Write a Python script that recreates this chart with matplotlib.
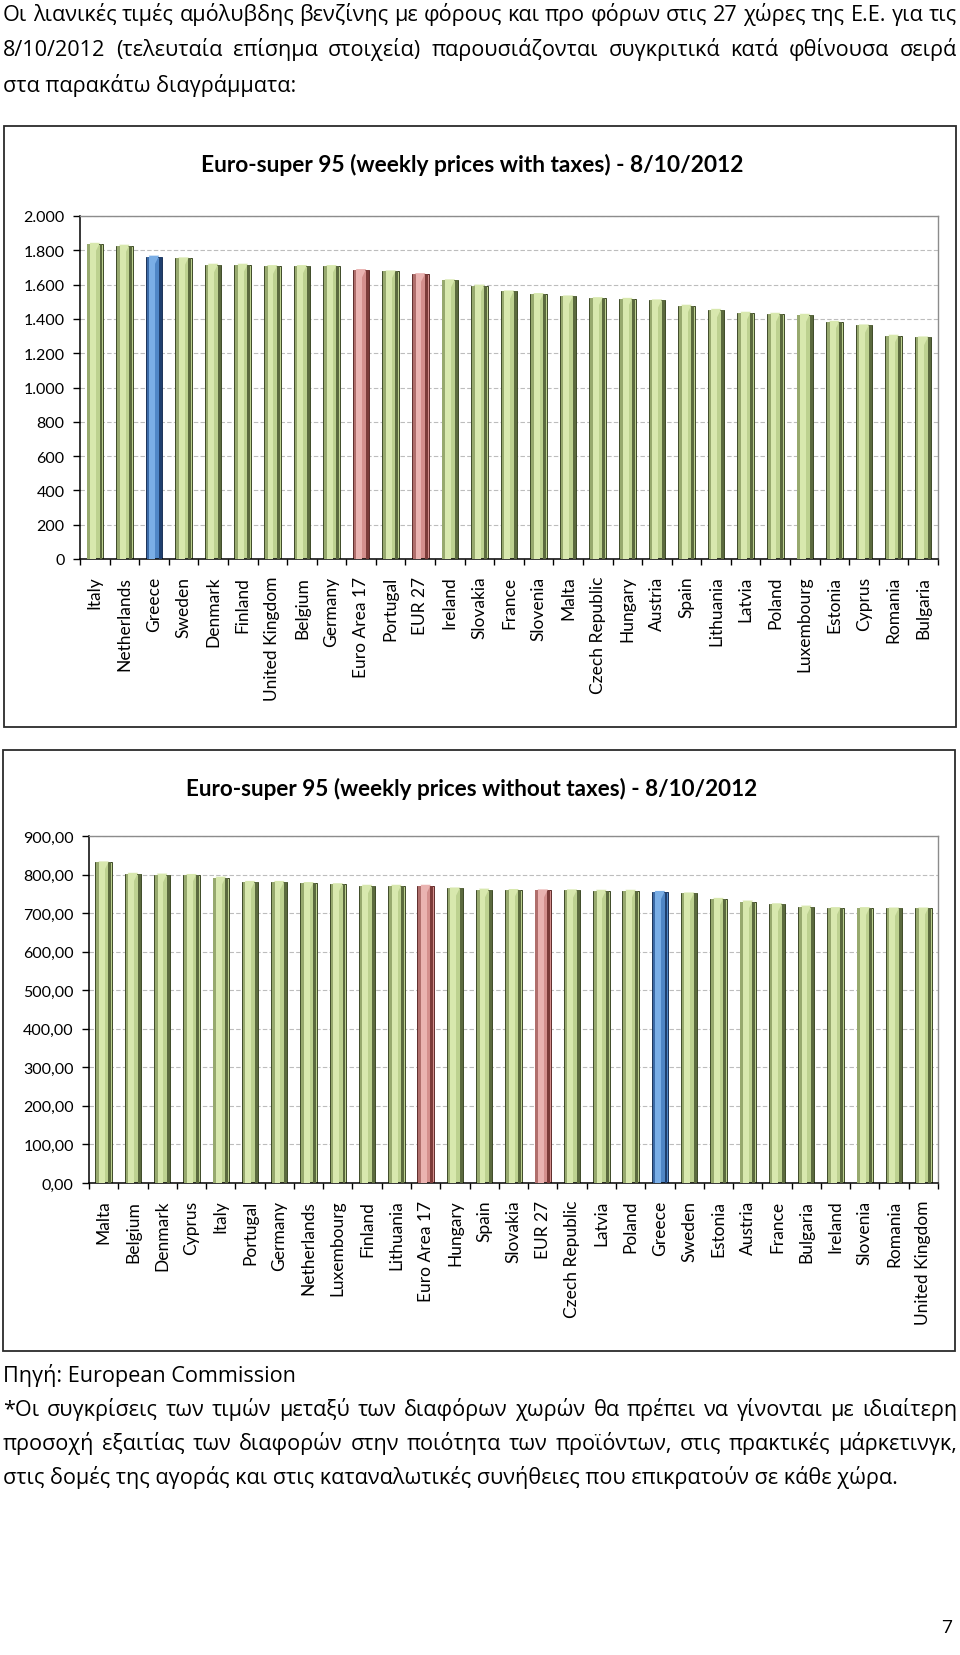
import matplotlib
matplotlib.use('Agg')
from matplotlib import pyplot as plt
from matplotlib.patches import Rectangle
from matplotlib.ticker import FuncFormatter, FixedLocator
import matplotlib.transforms as mtransforms
import numpy as np

W, H = 960, 1656

# Euro-super 95 with taxes, 8/10/2012
countries_tax = ['Italy', 'Netherlands', 'Greece', 'Sweden', 'Denmark', 'Finland',
                 'United Kingdom', 'Belgium', 'Germany', 'Euro Area 17', 'Portugal',
                 'EUR 27', 'Ireland', 'Slovakia', 'France', 'Slovenia', 'Malta',
                 'Czech Republic', 'Hungary', 'Austria', 'Spain', 'Lithuania', 'Latvia',
                 'Poland', 'Luxembourg', 'Estonia', 'Cyprus', 'Romania', 'Bulgaria']
prices_tax = [1838, 1827, 1763, 1753, 1716, 1716, 1708, 1708, 1708, 1685, 1677,
              1661, 1625, 1594, 1560, 1545, 1531, 1521, 1517, 1508, 1477, 1453, 1436,
              1430, 1424, 1383, 1362, 1302, 1292]

# Euro-super 95 without taxes, 8/10/2012
countries_notax = ['Malta', 'Belgium', 'Denmark', 'Cyprus', 'Italy', 'Portugal', 'Germany',
                   'Netherlands', 'Luxembourg', 'Finland', 'Lithuania', 'Euro Area 17',
                   'Hungary', 'Spain', 'Slovakia', 'EUR 27', 'Czech Republic', 'Latvia',
                   'Poland', 'Greece', 'Sweden', 'Estonia', 'Austria', 'France', 'Bulgaria',
                   'Ireland', 'Slovenia', 'Romania', 'United Kingdom']
prices_notax = [831.6, 802, 800, 799, 792, 781, 781, 778, 775, 771, 771, 771, 764, 761,
                760, 759, 759, 758, 758, 755, 751, 737, 730, 723, 717, 713, 713, 712, 712]

intro_lines = [
    'Οι λιανικές τιμές αμόλυβδης βενζίνης με φόρους και προ φόρων στις 27 χώρες της Ε.Ε. για τις',
    '8/10/2012 (τελευταία επίσημα στοιχεία) παρουσιάζονται συγκριτικά κατά φθίνουσα σειρά',
    'στα παρακάτω διαγράμματα:',
]
source_line = 'Πηγή: European Commission'
note_lines = [
    '*Οι συγκρίσεις των τιμών μεταξύ των διαφόρων χωρών θα πρέπει να γίνονται με ιδιαίτερη',
    'προσοχή εξαιτίας των διαφορών στην ποιότητα των προϊόντων, στις πρακτικές μάρκετινγκ,',
    'στις δομές της αγοράς και στις καταναλωτικές συνήθειες που επικρατούν σε κάθε χώρα.',
]

GREEK = ['Open Sans', 'Noto Sans', 'DejaVu Sans']
LATIN = ['Lato', 'Open Sans', 'DejaVu Sans']

fig = plt.figure(figsize=(W / 100, H / 100), dpi=100)
renderer = fig.canvas.get_renderer()


def fx(x):
    return x / W


def fy(y):
    return 1 - y / H


def text_width(s, size, **kw):
    t = fig.text(0, 0, s, fontsize=size, **kw)
    w = t.get_window_extent(renderer).width
    t.remove()
    return w


def fit_size(s, target, **kw):
    return 10 * target / text_width(s, 10, **kw)


def put_line(s, x0, x1, y, size, justify=True, **kw):
    if not justify:
        fig.text(fx(x0), fy(y), s, fontsize=size, ha='left', va='baseline', **kw)
        return
    words = s.split(' ')
    widths = [text_width(w, size, **kw) for w in words]
    gap = (x1 - x0 - sum(widths)) / (len(words) - 1)
    x = x0
    for w, ww in zip(words, widths):
        fig.text(fx(x), fy(y), w, fontsize=size, ha='left', va='baseline', **kw)
        x += ww + gap


# page text
body_size = min(fit_size(intro_lines[0], 954, family=GREEK),
                fit_size(note_lines[0], 954, family=GREEK),
                fit_size(note_lines[1], 954, family=GREEK))
put_line(intro_lines[0], 3, 957, 21, body_size, family=GREEK)
put_line(intro_lines[1], 3, 957, 56, body_size, family=GREEK)
put_line(intro_lines[2], 3, 957, 92, body_size, justify=False, family=GREEK)
put_line(source_line, 3, 957, 1382, body_size, justify=False, family=GREEK)
put_line(note_lines[0], 3, 957, 1416, body_size, family=GREEK)
put_line(note_lines[1], 3, 957, 1450, body_size, family=GREEK)
put_line(note_lines[2], 3, 957, 1484, body_size, justify=False, family=GREEK)
fig.text(fx(952), fy(1633), '7', fontsize=14, ha='right', va='baseline', family=GREEK)

GREEN = dict(face='#bdd190', light='#d8e8ae', dark='#5b6a3e', mid='#97a96e', edge='#3e4a28')
BLUE = dict(face='#4f86c6', light='#7aaee6', dark='#1f3f6e', mid='#3b6aa6', edge='#1c3358')
PINK = dict(face='#d48f8d', light='#eab3b1', dark='#7c3b39', mid='#b06e6c', edge='#5e2c2b')


def style_of(name):
    if name == 'Greece':
        return BLUE
    if name in ('Euro Area 17', 'EUR 27'):
        return PINK
    return GREEN


def draw_chart(box, plot, title, title_w, labels, values, ymax, ystep, fmt):
    bx0, by0, bx1, by1 = box
    fig.patches.append(Rectangle((fx(bx0), fy(by1)), (bx1 - bx0) / W, (by1 - by0) / H,
                                 transform=fig.transFigure, fill=False,
                                 edgecolor='#2b2b2b', lw=1.3))
    tsize = fit_size(title, title_w, family=LATIN, weight='bold')
    fig.text(fx(472), fy(by0 + 38), title, fontsize=tsize, weight='bold',
             family=LATIN, ha='center', va='center')

    px0, py0, px1, py1 = plot
    ax = fig.add_axes([fx(px0), fy(py1), (px1 - px0) / W, (py1 - py0) / H])
    n = len(labels)
    x = np.arange(n)
    vals = np.array(values)
    st = [style_of(c) for c in labels]
    ax.bar(x, vals, width=0.56, color=[s['face'] for s in st],
           edgecolor=[s['edge'] for s in st], lw=0.7, zorder=2)
    ax.bar(x - 0.2, vals, width=0.1, color=[s['mid'] for s in st], lw=0, zorder=3)
    ax.bar(x - 0.06, vals, width=0.2, color=[s['light'] for s in st], lw=0, zorder=3)
    ax.bar(x + 0.21, vals, width=0.1, color=[s['dark'] for s in st], lw=0, zorder=3)
    tri = mtransforms.offset_copy(ax.transData, fig=fig, x=0, y=-3, units='points')
    ax.scatter(x, vals, marker='v', s=55, color=[s['light'] for s in st],
               edgecolors='none', transform=tri, zorder=4)

    ax.set_xlim(-0.5, n - 0.5)
    ax.set_ylim(0, ymax)
    ax.set_yticks(np.arange(0, ymax + ystep / 2, ystep))
    ax.yaxis.set_major_formatter(FuncFormatter(fmt))
    ax.set_xticks(x)
    ax.set_xticklabels(labels, rotation=90, family=LATIN, fontsize=12.5)
    ax.xaxis.set_minor_locator(FixedLocator(np.arange(-0.5, n, 1)))
    ax.tick_params(axis='x', which='major', length=0, pad=12)
    ax.tick_params(axis='x', which='minor', length=4, width=1, direction='out')
    ax.tick_params(axis='y', length=5, width=1, direction='out', pad=6, labelsize=11.5)
    for t in ax.get_yticklabels():
        t.set_family(LATIN)
    ax.yaxis.grid(True, linestyle=(0, (4, 2)), color='#bdbdbd', lw=0.8)
    ax.set_axisbelow(True)
    for side in ('top', 'right'):
        ax.spines[side].set_color('#8c8c8c')
        ax.spines[side].set_linewidth(1)
    for side in ('left', 'bottom'):
        ax.spines[side].set_color('black')
        ax.spines[side].set_linewidth(1.1)
    return ax


draw_chart((4, 127, 956, 728), (80, 217, 938, 560),
           'Euro-super 95 (weekly prices with taxes) - 8/10/2012', 545,
           countries_tax, prices_tax, 2000, 200,
           lambda v, p: '{:,.0f}'.format(v).replace(',', '.'))

draw_chart((3, 751, 955, 1352), (89, 837, 938, 1184),
           'Euro-super 95 (weekly prices without taxes) - 8/10/2012', 573,
           countries_notax, prices_notax, 900, 100,
           lambda v, p: '{:.2f}'.format(v).replace('.', ','))

fig.savefig('out.png', dpi=100, facecolor='white')
